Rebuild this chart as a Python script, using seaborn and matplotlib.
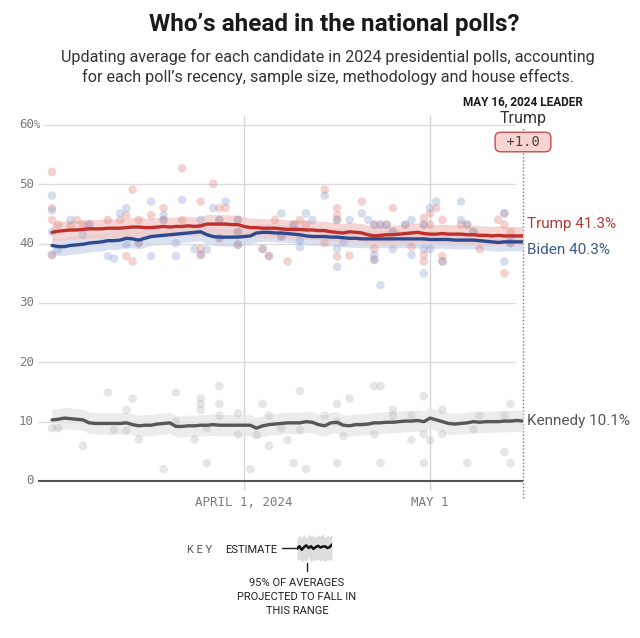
import matplotlib
matplotlib.use("Agg")
import matplotlib.pyplot as plt
import matplotlib.transforms as mtransforms
from matplotlib.lines import Line2D
import numpy as np
import pandas as pd
import seaborn as sns

sns.set_theme(style="white")
plt.rcParams['font.family'] = ['Roboto', 'DejaVu Sans']

# ---------------- data ----------------
# day 0 = March 1, 2024 ... day 76 = May 16, 2024
days = list(range(77))

trump_avg = [41.9, 42.1, 42.2, 42.3, 42.3, 42.4, 42.5, 42.5, 42.5, 42.6,
             42.6, 42.6, 42.7, 42.8, 42.8, 42.7, 42.7, 42.8, 42.9, 42.8,
             42.9, 42.9, 43.0, 42.9, 43.0, 43.3, 43.3, 43.3, 43.3, 43.2,
             43.2, 42.9, 42.7, 42.7, 42.6, 42.6, 42.6, 42.5, 42.4, 42.4,
             42.4, 42.3, 42.3, 42.2, 42.2, 42.0, 41.9, 41.8, 42.0, 41.9,
             41.8, 41.5, 41.3, 41.4, 41.5, 41.5, 41.6, 41.7, 41.8, 41.9,
             41.7, 41.6, 41.6, 41.7, 41.6, 41.6, 41.6, 41.5, 41.5, 41.4,
             41.4, 41.3, 41.4, 41.3, 41.3, 41.3, 41.3]

biden_avg = [39.7, 39.5, 39.5, 39.7, 39.8, 39.9, 40.1, 40.2, 40.3, 40.5,
             40.5, 40.6, 40.9, 40.8, 40.6, 40.9, 41.2, 41.3, 41.4, 41.5,
             41.6, 41.7, 41.8, 41.9, 42.0, 41.5, 41.2, 41.1, 41.1, 41.1,
             41.1, 41.2, 41.3, 41.8, 41.9, 41.9, 41.8, 41.8, 41.7, 41.6,
             41.5, 41.3, 41.2, 41.2, 41.2, 41.1, 41.1, 41.0, 40.9, 40.9,
             40.8, 40.8, 40.8, 40.8, 40.8, 40.8, 40.8, 40.8, 40.8, 40.8,
             40.8, 40.7, 40.7, 40.7, 40.7, 40.6, 40.6, 40.6, 40.6, 40.5,
             40.4, 40.3, 40.2, 40.3, 40.3, 40.3, 40.3]

kennedy_avg = [10.3, 10.4, 10.6, 10.5, 10.4, 10.3, 9.8, 9.7, 9.7, 9.7,
               9.7, 9.7, 9.8, 9.5, 9.3, 9.4, 9.4, 9.6, 9.7, 9.8,
               9.2, 9.2, 9.3, 9.3, 9.4, 9.4, 9.5, 9.4, 9.4, 9.4,
               9.4, 9.4, 9.4, 8.9, 9.3, 9.5, 9.6, 9.7, 9.8, 9.8,
               9.8, 10.0, 9.9, 9.5, 9.3, 9.8, 9.9, 9.4, 9.3, 9.5,
               9.5, 9.6, 9.8, 9.8, 9.9, 9.9, 10.0, 10.1, 10.1, 10.2,
               10.0, 10.6, 10.3, 10.0, 9.7, 9.6, 9.7, 9.8, 10.0, 9.9,
               10.0, 10.0, 10.0, 10.1, 10.1, 10.2, 10.1]

band_halfwidth = {"Trump": 1.6, "Biden": 1.5, "Kennedy": 1.8}

trump_polls = [(0, 52.1), (0, 46.0), (0, 44.0), (0, 38.1), (1, 43.2), (3, 43.0), (4, 44.0),
               (5, 43.2), (6, 43.2), (9, 44.0), (11, 44.0), (12, 44.8), (12, 37.9), (13, 49.1),
               (13, 37.0), (14, 44.0), (14, 40.1), (16, 44.8), (18, 46.0), (18, 44.0), (21, 52.7),
               (21, 44.0), (24, 47.1), (24, 39.1), (24, 38.1), (26, 50.1), (27, 46.0), (27, 44.0),
               (27, 40.9), (28, 46.0), (30, 44.0), (30, 42.0), (30, 39.8), (34, 39.1), (35, 37.9),
               (36, 44.0), (37, 41.2), (38, 37.0), (39, 43.2), (40, 44.0), (41, 43.2), (44, 49.1),
               (44, 40.1), (46, 46.0), (46, 44.8), (46, 44.0), (46, 37.8), (48, 38.0), (50, 47.1),
               (52, 43.2), (52, 39.1), (52, 37.3), (53, 43.2), (54, 43.2), (55, 46.0), (55, 42.0),
               (57, 43.2), (58, 39.5), (60, 44.3), (60, 43.2), (60, 38.1), (60, 37.0), (61, 45.1),
               (61, 43.2), (62, 46.0), (63, 44.0), (63, 37.9), (63, 37.0), (66, 43.2), (67, 43.2),
               (68, 42.0), (69, 39.1), (72, 44.0), (73, 45.1), (73, 43.2), (73, 35.0), (74, 42.0),
               (74, 40.1)]

biden_polls = [(0, 48.1), (0, 45.6), (0, 42.0), (0, 38.1), (1, 39.0), (3, 44.0), (5, 41.5),
               (6, 43.2), (9, 37.9), (10, 37.5), (11, 45.1), (12, 46.0), (12, 39.8), (14, 40.1),
               (16, 47.1), (16, 37.9), (18, 44.8), (18, 44.0), (20, 40.1), (20, 37.9), (21, 47.4),
               (23, 39.1), (24, 44.0), (24, 38.1), (25, 39.0), (26, 46.0), (27, 44.0), (27, 40.9),
               (28, 47.1), (30, 44.0), (30, 42.0), (30, 39.8), (34, 39.1), (35, 37.9), (37, 45.1),
               (37, 41.2), (39, 43.2), (40, 40.6), (40, 39.4), (41, 45.1), (42, 44.0), (44, 48.1),
               (46, 44.0), (46, 39.1), (46, 36.1), (47, 40.2), (48, 44.0), (50, 45.1), (51, 44.0),
               (52, 43.2), (52, 38.1), (52, 37.3), (53, 43.2), (53, 33.0), (54, 43.2), (55, 42.0),
               (55, 39.1), (57, 43.2), (58, 44.0), (58, 38.1), (60, 43.2), (60, 39.1), (60, 35.0),
               (61, 46.0), (61, 39.1), (62, 47.1), (63, 37.0), (66, 47.1), (66, 44.0), (67, 43.2),
               (68, 42.0), (73, 45.1), (73, 37.0), (74, 40.1), (74, 41.0)]

kennedy_polls = [(0, 8.9), (1, 8.9), (5, 5.9), (9, 14.9), (10, 8.6), (12, 12.0), (12, 8.5),
                 (13, 13.9), (14, 7.0), (18, 2.0), (20, 14.9), (20, 10.0), (23, 7.0), (24, 13.9),
                 (24, 13.0), (24, 12.0), (25, 8.9), (25, 3.0), (27, 16.0), (27, 13.0), (27, 11.0),
                 (30, 11.4), (30, 7.8), (32, 2.0), (33, 7.8), (34, 13.0), (35, 11.0), (35, 5.9),
                 (37, 8.9), (38, 6.9), (39, 3.0), (40, 15.2), (40, 8.6), (41, 2.0), (44, 11.0),
                 (46, 13.0), (46, 10.0), (46, 3.0), (47, 7.6), (48, 13.9), (52, 16.0), (53, 16.0),
                 (52, 7.9), (53, 3.0), (55, 12.0), (55, 11.0), (58, 11.0), (58, 6.9), (60, 14.3),
                 (60, 7.9), (60, 3.0), (61, 6.9), (63, 12.0), (63, 7.9), (67, 3.0), (68, 8.7),
                 (69, 11.0), (73, 11.0), (73, 4.9), (74, 13.0), (74, 3.0)]

y_ticks = [0, 10, 20, 30, 40, 50, 60]
y_tick_labels = ["0", "10", "20", "30", "40", "50", "60"]
y_top_suffix = "%"
x_ticks = [31, 61]
x_tick_labels = ["APRIL 1, 2024", "MAY 1"]
last_day = 76
leader_title = "MAY 16, 2024 LEADER"
leader_name = "Trump"
leader_margin = "+1.0"

key_wave = [0.0, 0.3, -0.1, 0.2, 0.4, 0.1, 0.3, 0.0, 0.2, 0.35, 0.15, 0.25, 0.3, 0.1, 0.2, 0.5]
key_upper = [1.2, 1.5, 1.3, 1.6, 1.2, 1.7, 1.4, 1.5, 1.3, 1.6, 1.4, 1.7, 1.3, 1.5, 1.4, 1.6]
key_lower = [-1.3, -1.1, -1.5, -1.2, -1.4, -1.0, -1.5, -1.2, -1.3, -1.1, -1.4, -1.2, -1.5, -1.1, -1.3, -1.2]

# ---------------- styles ----------------
line_colors = {"Trump": "#c0302b", "Biden": "#2e4a8e", "Kennedy": "#575757"}
band_colors = {"Trump": "#f2c9c6", "Biden": "#cdd6ec", "Kennedy": "#e6e6e6"}
point_colors = {"Trump": "#e2807a", "Biden": "#8c9fd0", "Kennedy": "#b8b8b8"}
label_colors = {"Trump": "#b23a33", "Biden": "#3d5a8c", "Kennedy": "#555555"}

avg_df = pd.concat([
    pd.DataFrame({"day": days, "value": trump_avg, "candidate": "Trump"}),
    pd.DataFrame({"day": days, "value": biden_avg, "candidate": "Biden"}),
    pd.DataFrame({"day": days, "value": kennedy_avg, "candidate": "Kennedy"}),
], ignore_index=True)

polls_df = pd.concat([
    pd.DataFrame(trump_polls, columns=["day", "value"]).assign(candidate="Trump"),
    pd.DataFrame(biden_polls, columns=["day", "value"]).assign(candidate="Biden"),
    pd.DataFrame(kennedy_polls, columns=["day", "value"]).assign(candidate="Kennedy"),
], ignore_index=True)

# ---------------- figure ----------------
W, H = 640, 638
fig = plt.figure(figsize=(W / 100, H / 100), dpi=100)
fig.patch.set_facecolor("white")

px_left, px_right = 38, 523
px_top, px_bottom = 113.1, 498.8
ax = fig.add_axes([px_left / W, 1 - px_bottom / H, (px_right - px_left) / W, (px_bottom - px_top) / H])
ax.set_facecolor("none")
px_per_day = 6.2
x_left = -(52 - px_left) / px_per_day
ax.set_xlim(x_left, last_day)
ax.set_ylim(-3, 62)
for s in ax.spines.values():
    s.set_visible(False)
ax.set_xticks([])
ax.set_yticks([])
ax.grid(False)

grid_end = 74.7
trans = mtransforms.blended_transform_factory(fig.transFigure, ax.transData)
for yt, lab in zip(y_ticks, y_tick_labels):
    is_top = yt == y_ticks[-1]
    if yt == 0:
        ax.hlines(yt, x_left, last_day, color="#555555", lw=1.5, zorder=1)
    else:
        start = x_left + (5 / px_per_day if is_top else 0)
        ax.hlines(yt, start, grid_end, color="#dcdcdc", lw=1.0, zorder=0)
    fig.text(34 / W, yt, lab, transform=trans, ha="right", va="center",
             family="DejaVu Sans Mono", fontsize=9, color="#7a7a7a")
    if is_top:
        fig.text(34 / W, yt, y_top_suffix, transform=trans, ha="left", va="center",
                 family="DejaVu Sans Mono", fontsize=7.5, color="#7a7a7a")

for xt, lab in zip(x_ticks, x_tick_labels):
    ax.vlines(xt, -1.5, 61.7, color="#d6d6d6", lw=1.0, zorder=0, clip_on=False)
    ax.text(xt, -3.6, lab, ha="center", va="center", family="DejaVu Sans Mono",
            fontsize=9, color="#7a7a7a", clip_on=False)

ax.vlines(last_day, -2.9, 59.6, color="#777777", lw=1.0, linestyles=(0, (1, 1.5)),
          zorder=1, clip_on=False)

# bands
for cand, avg in [("Kennedy", kennedy_avg), ("Biden", biden_avg), ("Trump", trump_avg)]:
    a = np.array(avg)
    hw = band_halfwidth[cand]
    ax.fill_between(days, a - hw, a + hw, color=band_colors[cand], alpha=0.75, lw=0, zorder=1)

# poll points
sns.scatterplot(data=polls_df, x="day", y="value", hue="candidate", palette=point_colors,
                alpha=0.35, s=38, edgecolor="none", legend=False, ax=ax, zorder=2)

# averages
sns.lineplot(data=avg_df, x="day", y="value", hue="candidate", palette=line_colors,
             linewidth=2.4, legend=False, ax=ax, zorder=3)
ax.set_xlabel("")
ax.set_ylabel("")

# end labels
end_vals = {"Trump": trump_avg[-1], "Biden": biden_avg[-1], "Kennedy": kennedy_avg[-1]}
label_y = {"Trump": 43.3, "Biden": 38.9, "Kennedy": 10.1}
for cand in ["Trump", "Biden", "Kennedy"]:
    ax.text(last_day + 0.6, label_y[cand], f"{cand} {end_vals[cand]:.1f}%", ha="left",
            va="center", fontsize=11, color=label_colors[cand], clip_on=False)

# title
fig.text(334 / W, 1 - 25 / H, "Who’s ahead in the national polls?", ha="center", va="center",
         fontsize=17.5, fontweight="bold", color="#1a1a1a")
fig.text(328 / W, 1 - 57 / H, "Updating average for each candidate in 2024 presidential polls, accounting",
         ha="center", va="center", fontsize=11.6, color="#333333")
fig.text(328 / W, 1 - 77 / H, "for each poll’s recency, sample size, methodology and house effects.",
         ha="center", va="center", fontsize=11.6, color="#333333")

# leader box
fig.text(523 / W, 1 - 102 / H, leader_title, ha="center", va="center", fontsize=8.5,
         fontweight="bold", color="#1a1a1a")
fig.text(523 / W, 1 - 119 / H, leader_name, ha="center", va="center", fontsize=11.5, color="#333333")
fig.text(523 / W, 1 - 142 / H, f" {leader_margin} ", ha="center", va="center", fontsize=10,
         family="DejaVu Sans Mono", color="#444444",
         bbox=dict(boxstyle="round,pad=0.2,rounding_size=0.4", fc="#f7d3d1", ec="#c0504d", lw=1.0))

# key
fig.text(187 / W, 1 - 550 / H, "K E Y", ha="left", va="center", fontsize=8, color="#555555")
fig.text(225 / W, 1 - 550 / H, "ESTIMATE", ha="left", va="center", fontsize=8, color="#222222")
fig.add_artist(Line2D([282 / W, 296 / W], [1 - 548 / H, 1 - 548 / H], color="#222222", lw=1.0))
kax = fig.add_axes([297 / W, 1 - 563 / H, 35 / W, 30 / H])
kx = list(range(len(key_wave)))
kax.fill_between(kx, key_lower, key_upper, color="#dddddd", lw=0)
kax.plot(kx, key_wave, color="#111111", lw=1.8)
kax.set_xlim(0, len(key_wave) - 1)
kax.set_ylim(-1.6, 1.8)
kax.axis("off")
fig.add_artist(Line2D([307 / W, 307 / W], [1 - 563 / H, 1 - 571 / H], color="#222222", lw=1.0))
for i, t in enumerate(["95% OF AVERAGES", "PROJECTED TO FALL IN", "THIS RANGE"]):
    fig.text(297 / W, 1 - (583 + 14 * i) / H, t, ha="center", va="center", fontsize=8,
             color="#222222")

fig.savefig("out.png", dpi=100, facecolor="white")
